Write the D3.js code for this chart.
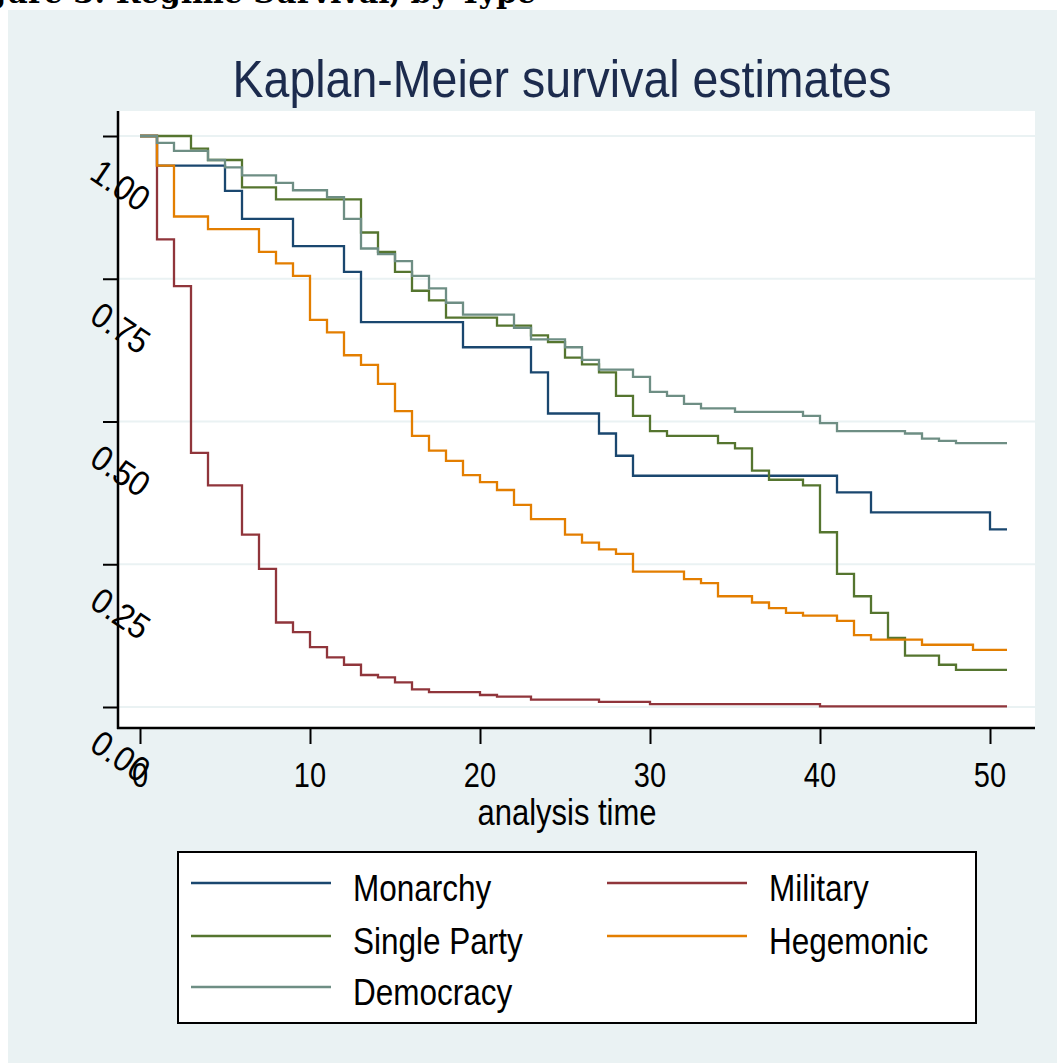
<!DOCTYPE html>
<html>
<head>
<meta charset="utf-8">
<script src="https://cdn.jsdelivr.net/npm/d3@7"></script>
<style>
  body { margin: 0; background: #ffffff; }
  svg { display: block; }
</style>
</head>
<body>
<div id="chart"></div>
<script>
// step points: analysis time and survival estimate
var monarchyTime = [0, 1, 5, 6, 9, 12, 13, 19, 23, 24, 27, 28, 29, 41, 43, 50, 51];
var monarchySurv = [1, .948, .904, .855, .807, .762, .674, .630, .586, .514, .479, .440, .405, .376, .341, .311, .311];

var militaryTime = [0, 1, 2, 3, 4, 6, 7, 8, 9, 10, 11, 12, 13, 14, 15, 16, 17, 20, 21, 23, 27, 30, 40, 51];
var militarySurv = [1, .819, .737, .445, .388, .302, .242, .148, .131, .105, .087, .074, .056, .052, .043, .031, .026, .021, .018, .013, .009, .005, .001, .001];

var singleTime = [0, 3, 4, 6, 8, 13, 14, 15, 16, 17, 18, 21, 23, 24, 25, 26, 27, 28, 29, 30, 31, 34, 35, 36, 37, 39, 40, 41, 42, 43, 44, 45, 47, 48, 51];
var singleSurv = [1, .978, .958, .910, .889, .831, .797, .762, .729, .712, .682, .668, .651, .639, .612, .600, .586, .545, .510, .483, .475, .462, .453, .414, .398, .388, .306, .233, .194, .165, .121, .090, .074, .065, .065];

var hegemonicTime = [0, 1, 2, 4, 7, 8, 9, 10, 11, 12, 13, 14, 15, 16, 17, 18, 19, 20, 21, 22, 23, 25, 26, 27, 28, 29, 32, 33, 34, 36, 37, 38, 39, 41, 42, 43, 46, 49, 51];
var hegemonicSurv = [1, .948, .859, .837, .797, .777, .755, .678, .656, .616, .599, .566, .518, .475, .449, .431, .406, .394, .380, .354, .329, .302, .288, .276, .268, .237, .224, .217, .194, .183, .173, .165, .160, .151, .126, .118, .109, .100, .100];

var democracyTime = [0, 1, 2, 4, 5, 6, 8, 9, 11, 12, 13, 14, 15, 16, 17, 18, 19, 22, 23, 25, 26, 27, 29, 30, 31, 32, 33, 35, 39, 40, 41, 45, 46, 47, 48, 51];
var democracySurv = [1, .988, .974, .958, .945, .931, .918, .905, .893, .855, .803, .793, .781, .755, .733, .708, .687, .664, .644, .630, .608, .591, .578, .552, .545, .531, .523, .517, .510, .497, .483, .479, .470, .466, .462, .462];

var seriesNames = ["Monarchy", "Military", "Single Party", "Hegemonic", "Democracy"];
var xTicks = [0, 10, 20, 30, 40, 50];
var yTicks = [0, .25, .5, .75, 1];

var series = [
    { name: seriesNames[0], time: monarchyTime, surv: monarchySurv, color: "#1a476f" },
    { name: seriesNames[1], time: militaryTime, surv: militarySurv, color: "#90353b" },
    { name: seriesNames[2], time: singleTime, surv: singleSurv, color: "#55752f" },
    { name: seriesNames[3], time: hegemonicTime, surv: hegemonicSurv, color: "#e37e00" },
    { name: seriesNames[4], time: democracyTime, surv: democracySurv, color: "#6e8e84" }
];

var width = 1057, height = 1063;
var font = "'Liberation Sans', Arial, sans-serif";
var stretch = 1.2; // stata text looks taller than it is wide

var svg = d3.select("#chart").append("svg")
    .attr("width", width)
    .attr("height", height);

// graph region background
svg.append("rect")
    .attr("x", 8).attr("y", 10)
    .attr("width", width - 8).attr("height", height - 10)
    .attr("fill", "#eaf2f3");

// caption of the page, only its lower edge is in the shot
svg.append("text")
    .attr("x", 536).attr("y", 3)
    .attr("text-anchor", "end")
    .style("font-family", "'DejaVu Serif', serif")
    .style("font-weight", "bold")
    .style("font-size", "30px")
    .attr("fill", "#000")
    .text("Figure 3: Regime Survival, by Type");

var plot = { left: 118, right: 1035, top: 111, bottom: 728 };

svg.append("rect")
    .attr("x", plot.left).attr("y", plot.top)
    .attr("width", plot.right - plot.left).attr("height", plot.bottom - plot.top)
    .attr("fill", "#ffffff");

var x = d3.scaleLinear().domain([0, 50]).range([140, 990]);
var y = d3.scaleLinear().domain([0, 1]).range([707, 136]);

// grid lines
svg.append("g")
    .selectAll("line")
    .data(yTicks)
    .enter().append("line")
    .attr("x1", plot.left).attr("x2", plot.right)
    .attr("y1", d => y(d)).attr("y2", d => y(d))
    .attr("stroke", "#eaf2f3")
    .attr("stroke-width", 2);

// y axis
var yAxis = svg.append("g")
    .attr("transform", "translate(" + plot.left + ",0)")
    .call(d3.axisLeft(y).tickValues(yTicks).tickSize(15).tickSizeOuter(0).tickFormat(""));
yAxis.select(".domain").remove();
yAxis.selectAll("line").attr("stroke", "#000").attr("stroke-width", 2);
svg.append("line")
    .attr("x1", plot.left).attr("x2", plot.left)
    .attr("y1", plot.top).attr("y2", plot.bottom + 1)
    .attr("stroke", "#000").attr("stroke-width", 2.5);

// rotated y labels
svg.append("g")
    .selectAll("text")
    .data(yTicks)
    .enter().append("text")
    .attr("transform", d => "translate(88," + (y(d) + 42) + ") rotate(34) scale(1,1.1)")
    .style("font-family", font)
    .style("font-size", "32px")
    .attr("fill", "#000")
    .text(d => d3.format(".2f")(d));

// x axis
var xAxis = svg.append("g")
    .attr("transform", "translate(0," + plot.bottom + ")")
    .call(d3.axisBottom(x).tickValues(xTicks).tickSize(16).tickSizeOuter(0).tickFormat(""));
xAxis.select(".domain").remove();
xAxis.selectAll("line").attr("stroke", "#000").attr("stroke-width", 2);
svg.append("line")
    .attr("x1", plot.left - 1).attr("x2", plot.right)
    .attr("y1", plot.bottom).attr("y2", plot.bottom)
    .attr("stroke", "#000").attr("stroke-width", 2.5);

svg.append("g")
    .selectAll("text")
    .data(xTicks)
    .enter().append("text")
    .attr("transform", d => "translate(" + x(d) + ",787) scale(1," + stretch + ")")
    .attr("text-anchor", "middle")
    .style("font-family", font)
    .style("font-size", "29px")
    .attr("fill", "#000")
    .text(d => d);

svg.append("text")
    .attr("transform", "translate(567,825) scale(1," + stretch + ")")
    .attr("text-anchor", "middle")
    .style("font-family", font)
    .style("font-size", "31px")
    .attr("fill", "#000")
    .text("analysis time");

// title
svg.append("text")
    .attr("transform", "translate(562,97) scale(1,1.12)")
    .attr("text-anchor", "middle")
    .style("font-family", font)
    .style("font-size", "46.5px")
    .attr("fill", "#1c2b4d")
    .text("Kaplan-Meier survival estimates");

// survival curves
var line = d3.line()
    .x(d => x(d[0]))
    .y(d => y(d[1]))
    .curve(d3.curveStepAfter);

svg.append("g")
    .selectAll("path")
    .data(series)
    .enter().append("path")
    .attr("d", d => line(d.time.map((t, i) => [t, d.surv[i]])))
    .attr("fill", "none")
    .attr("stroke", d => d.color)
    .attr("stroke-width", 2.3);

// legend
var legend = svg.append("g");
legend.append("rect")
    .attr("x", 178).attr("y", 852)
    .attr("width", 798).attr("height", 171)
    .attr("fill", "#ffffff")
    .attr("stroke", "#000")
    .attr("stroke-width", 2);

var colX = [191, 607];
var rowY = [883, 936, 987];
var item = legend.selectAll("g.item")
    .data(series)
    .enter().append("g")
    .attr("class", "item")
    .attr("transform", (d, i) => "translate(" + colX[i % 2] + "," + rowY[Math.floor(i / 2)] + ")");
item.append("line")
    .attr("x1", 0).attr("x2", 140)
    .attr("y1", 0).attr("y2", 0)
    .attr("stroke", d => d.color)
    .attr("stroke-width", 2.3);
item.append("text")
    .attr("transform", "translate(162,18) scale(1," + stretch + ")")
    .style("font-family", font)
    .style("font-size", "31.5px")
    .attr("fill", "#000")
    .text(d => d.name);
</script>
</body>
</html>
